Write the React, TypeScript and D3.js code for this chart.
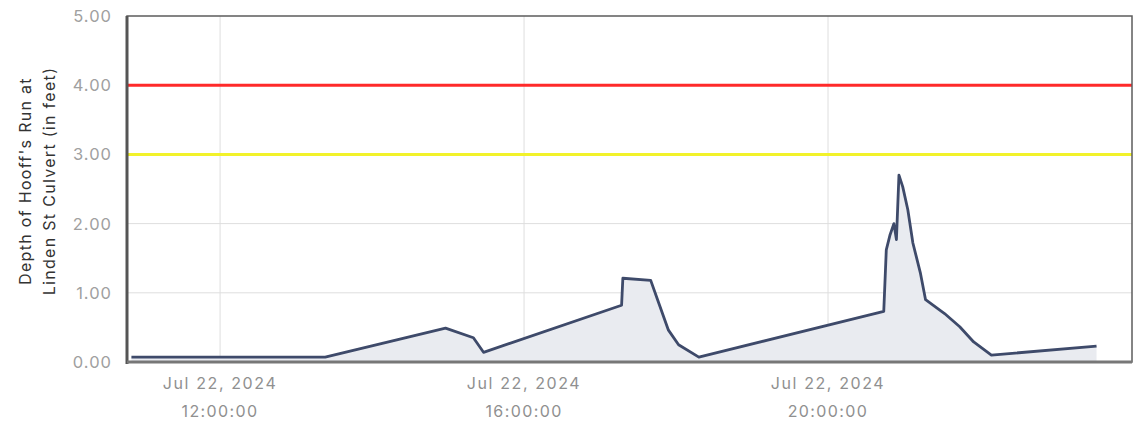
import React from 'react'
import * as d3 from 'd3'

// readings (local time, Jul 22 2024) and depth in feet
const times = [
  '10:50', '13:23', '14:58', '15:20', '15:28', '17:17', '17:18', '17:40', '17:45', '17:54',
  '18:02', '18:18', '20:44', '20:46', '20:49', '20:52', '20:54', '20:56', '20:59', '21:03',
  '21:07', '21:13', '21:17', '21:32', '21:44', '21:55', '22:09', '23:32'
]
const depths = [
  0.07, 0.07, 0.49, 0.35, 0.14, 0.82, 1.21, 1.18, 0.92, 0.46,
  0.25, 0.07, 0.73, 1.62, 1.84, 2.0, 1.77, 2.7, 2.53, 2.2,
  1.72, 1.28, 0.9, 0.7, 0.51, 0.29, 0.1, 0.23
]
const yTicks = [0, 1, 2, 3, 4, 5]
const xTicks = ['12:00', '16:00', '20:00']
const thresholds = [
  { value: 4, color: '#ff2a2a' },
  { value: 3, color: '#f2f22a' }
]
const yTitle = ["Depth of Hooff's Run at", 'Linden St Culvert (in feet)']

const W = 1140
const H = 426
const M = { left: 127, right: 8, top: 16, bottom: 64 }
const FONT = 'Inter, "Noto Sans", sans-serif'

const toDate = (hm: string) => {
  const [h, m] = hm.split(':').map(Number)
  return new Date(2024, 6, 22, h, m)
}

export default function App() {
  const svgRef = React.useRef<SVGSVGElement>(null)

  React.useEffect(() => {
    const svg = d3.select(svgRef.current!)
    svg.selectAll('*').remove()

    const data = times.map((t, i) => ({ t: toDate(t), v: depths[i] }))
    const x = d3.scaleTime()
      .domain([new Date(2024, 6, 22, 10, 46, 30), new Date(2024, 6, 23, 0, 0)])
      .range([M.left, W - M.right])
    const y = d3.scaleLinear().domain([0, 5]).range([H - M.bottom, M.top])

    const g = svg.append('g')

    // grid
    g.selectAll('line.hgrid').data(yTicks.slice(1, -1)).enter().append('line')
      .attr('x1', M.left).attr('x2', W - M.right)
      .attr('y1', d => y(d)).attr('y2', d => y(d))
      .attr('stroke', '#dedede').attr('stroke-width', 1)
    g.selectAll('line.vgrid').data(xTicks).enter().append('line')
      .attr('x1', d => x(toDate(d))).attr('x2', d => x(toDate(d)))
      .attr('y1', M.top).attr('y2', H - M.bottom)
      .attr('stroke', '#dedede').attr('stroke-width', 1)

    // thresholds
    thresholds.forEach(th => {
      g.append('line')
        .attr('x1', M.left).attr('x2', W - M.right)
        .attr('y1', y(th.value)).attr('y2', y(th.value))
        .attr('stroke', th.color).attr('stroke-width', 3)
    })

    // area + line
    const area = d3.area<{ t: Date; v: number }>()
      .x(d => x(d.t)).y0(y(0)).y1(d => y(d.v))
    const line = d3.line<{ t: Date; v: number }>()
      .x(d => x(d.t)).y(d => y(d.v))
    g.append('path').attr('d', area(data)!).attr('fill', '#e9ebf0')
    g.append('path').attr('d', line(data)!)
      .attr('fill', 'none').attr('stroke', '#3e4a6a').attr('stroke-width', 2.8)
      .attr('stroke-linejoin', 'round')

    // frame
    g.append('rect')
      .attr('x', M.left).attr('y', M.top)
      .attr('width', W - M.right - M.left).attr('height', H - M.bottom - M.top)
      .attr('fill', 'none').attr('stroke', '#5c5c5c').attr('stroke-width', 1.5)
    g.append('line')
      .attr('x1', M.left).attr('x2', M.left).attr('y1', M.top).attr('y2', H - M.bottom + 2)
      .attr('stroke', '#555').attr('stroke-width', 3)
    g.append('line')
      .attr('x1', M.left).attr('x2', W - M.right).attr('y1', H - M.bottom).attr('y2', H - M.bottom)
      .attr('stroke', '#777').attr('stroke-width', 3)

    // y tick labels
    g.selectAll('text.ytick').data(yTicks).enter().append('text')
      .attr('x', 112).attr('y', d => y(d))
      .attr('text-anchor', 'end').attr('dominant-baseline', 'central')
      .attr('font-family', FONT).attr('font-size', 16.5).attr('letter-spacing', 1)
      .attr('fill', '#a0a0a0')
      .text(d => d.toFixed(2))

    // x tick labels
    xTicks.forEach(t => {
      const xt = x(toDate(t))
      g.append('text').attr('x', xt).attr('y', 389).attr('text-anchor', 'middle')
        .attr('font-family', FONT).attr('font-size', 16).attr('letter-spacing', 1.6)
        .attr('fill', '#909090')
        .text(d3.timeFormat('%b %d, %Y')(toDate(t)))
      g.append('text').attr('x', xt).attr('y', 417).attr('text-anchor', 'middle')
        .attr('font-family', FONT).attr('font-size', 16).attr('letter-spacing', 1.4)
        .attr('fill', '#909090')
        .text(d3.timeFormat('%H:%M:%S')(toDate(t)))
    })

    // y axis title
    const title = g.append('text')
      .attr('transform', `translate(31, 181) rotate(-90)`)
      .attr('text-anchor', 'middle')
      .attr('font-family', FONT).attr('font-size', 16).attr('letter-spacing', 1.3)
      .attr('fill', '#333')
    yTitle.forEach((ln, i) => {
      title.append('tspan').attr('x', 0).attr('dy', i === 0 ? 0 : 24).text(ln)
    })
  }, [])

  return (
    <svg ref={svgRef} width={W} height={H}
      style={{ position: 'absolute', left: 0, top: 0, background: '#fff' }} />
  )
}
